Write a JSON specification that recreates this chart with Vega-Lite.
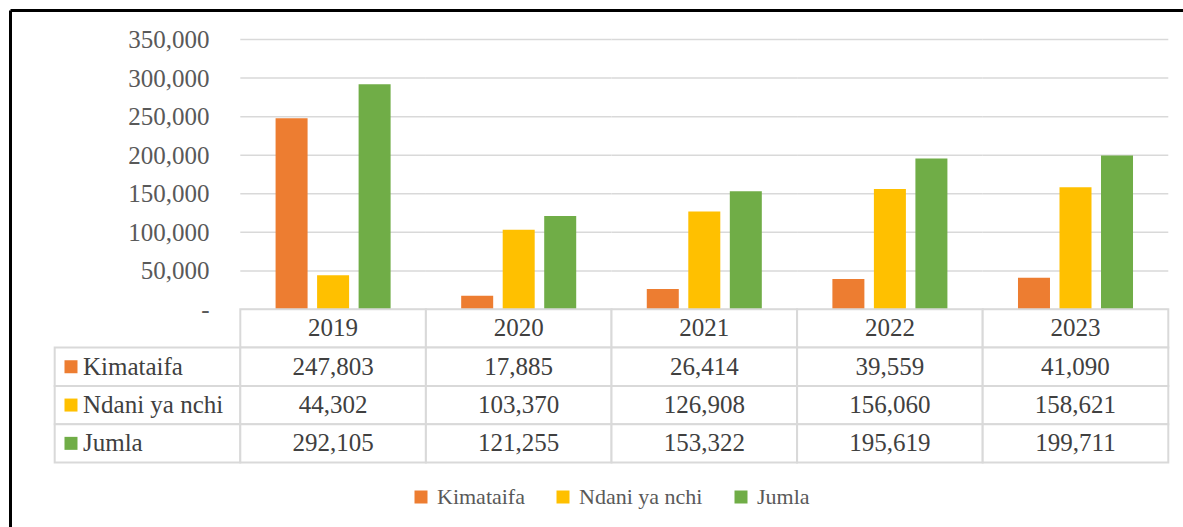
{
  "$schema": "https://vega.github.io/schema/vega-lite/v6.json",
  "width": 1173,
  "height": 517,
  "autosize": "none",
  "padding": {"left": 10, "top": 10, "right": 0, "bottom": 0},
  "background": "white",
  "config": {
    "view": {"stroke": null},
    "font": "Liberation Serif"
  },
  "datasets": {
    "values": [
      {"year": "2019", "series": "Kimataifa", "value": 247803},
      {"year": "2020", "series": "Kimataifa", "value": 17885},
      {"year": "2021", "series": "Kimataifa", "value": 26414},
      {"year": "2022", "series": "Kimataifa", "value": 39559},
      {"year": "2023", "series": "Kimataifa", "value": 41090},
      {"year": "2019", "series": "Ndani ya nchi", "value": 44302},
      {"year": "2020", "series": "Ndani ya nchi", "value": 103370},
      {"year": "2021", "series": "Ndani ya nchi", "value": 126908},
      {"year": "2022", "series": "Ndani ya nchi", "value": 156060},
      {"year": "2023", "series": "Ndani ya nchi", "value": 158621},
      {"year": "2019", "series": "Jumla", "value": 292105},
      {"year": "2020", "series": "Jumla", "value": 121255},
      {"year": "2021", "series": "Jumla", "value": 153322},
      {"year": "2022", "series": "Jumla", "value": 195619},
      {"year": "2023", "series": "Jumla", "value": 199711}
    ],
    "years": [
      {"year": "2019"}, {"year": "2020"}, {"year": "2021"}, {"year": "2022"}, {"year": "2023"}
    ],
    "series": [
      {"series": "Kimataifa"}, {"series": "Ndani ya nchi"}, {"series": "Jumla"}
    ],
    "grid": [
      {"year": "2019", "ticks": [0, 50000, 100000, 150000, 200000, 250000, 300000, 350000]},
      {"year": "2020", "ticks": [0, 50000, 100000, 150000, 200000, 250000, 300000, 350000]},
      {"year": "2021", "ticks": [0, 50000, 100000, 150000, 200000, 250000, 300000, 350000]},
      {"year": "2022", "ticks": [0, 50000, 100000, 150000, 200000, 250000, 300000, 350000]},
      {"year": "2023", "ticks": [0, 50000, 100000, 150000, 200000, 250000, 300000, 350000]}
    ]
  },
  "resolve": {"scale": {"y": "independent"}, "axis": {"y": "independent"}},
  "layer": [
    {
      "data": {"name": "grid"},
      "transform": [{"flatten": ["ticks"], "as": ["tick"]}],
      "mark": {"type": "rect", "fill": "transparent", "stroke": "#d9d9d9", "strokeWidth": 1.5},
      "encoding": {
        "x": {
          "field": "year", "type": "nominal",
          "scale": {"domain": ["Label", "2019", "2020", "2021", "2022", "2023"], "paddingInner": 0, "paddingOuter": 0.16, "align": 0.7525, "round": false},
          "axis": {"orient": "top", "labels": false, "ticks": false, "grid": false, "domain": true, "domainColor": "#000000", "domainWidth": 3, "title": null}
        },
        "y": {
          "field": "tick", "type": "quantitative",
          "scale": {"domain": [-281944, 388241], "zero": false, "nice": false},
          "axis": {"orient": "left", "labels": false, "ticks": false, "grid": false, "domain": true, "domainColor": "#000000", "domainWidth": 3, "title": null}
        },
        "y2": {"field": "tick"}
      }
    },
    {
      "data": {"name": "values"},
      "mark": {"type": "bar"},
      "encoding": {
        "x": {"field": "year", "type": "nominal"},
        "xOffset": {
          "field": "series", "type": "nominal",
          "scale": {"domain": ["Kimataifa", "Ndani ya nchi", "Jumla"], "paddingInner": 0.229, "paddingOuter": 0.85}
        },
        "y": {
          "field": "value", "type": "quantitative",
          "scale": {"domain": [-281944, 388241], "zero": false, "nice": false},
          "axis": {
            "orient": "left", "offset": -199, "values": [0, 50000, 100000, 150000, 200000, 250000, 300000, 350000],
            "labelExpr": "datum.value == 0 ? '-\u00a0\u00a0' : format(datum.value, ',')",
            "domain": false, "ticks": false, "grid": false, "labelPadding": 0,
            "labelFont": "Liberation Serif", "labelFontSize": 25, "labelColor": "#595959",
            "labelOverlap": false, "labelFlush": false, "title": null
          }
        },
        "y2": {"datum": 0},
        "color": {
          "field": "series", "type": "nominal",
          "scale": {"domain": ["Kimataifa", "Ndani ya nchi", "Jumla"], "range": ["#ED7D31", "#FFC000", "#70AD47"]},
          "legend": {
            "orient": "none", "legendX": 400, "legendY": 476, "direction": "horizontal", "title": null,
            "symbolType": "square", "symbolSize": 169, "symbolStrokeWidth": 0, "symbolOpacity": 1,
            "labelFont": "Liberation Serif", "labelFontSize": 22, "labelColor": "#595959",
            "labelOffset": 5, "columnPadding": 27, "padding": 0
          }
        }
      }
    },
    {
      "layer": [
        {
          "data": {"name": "years"},
          "mark": {"type": "rect", "fill": "white", "stroke": "#d9d9d9", "strokeWidth": 2},
          "encoding": {
            "x": {"field": "year", "type": "nominal"},
            "y": {
              "datum": "header", "type": "nominal",
              "scale": {"domain": ["header", "Kimataifa", "Ndani ya nchi", "Jumla"], "range": [299.3, 452.5], "paddingInner": 0, "paddingOuter": 0, "round": false},
              "axis": null
            }
          }
        },
        {
          "data": {"name": "series"},
          "mark": {"type": "rect", "fill": "white", "stroke": "#d9d9d9", "strokeWidth": 2},
          "encoding": {
            "x": {"datum": "Label", "type": "nominal"},
            "y": {"field": "series", "type": "nominal"}
          }
        },
        {
          "data": {"name": "values"},
          "mark": {"type": "rect", "fill": "white", "stroke": "#d9d9d9", "strokeWidth": 2},
          "encoding": {
            "x": {"field": "year", "type": "nominal"},
            "y": {"field": "series", "type": "nominal"}
          }
        },
        {
          "data": {"name": "years"},
          "mark": {"type": "text", "font": "Liberation Serif", "fontSize": 25, "color": "#404040", "baseline": "middle", "align": "center"},
          "encoding": {
            "x": {"field": "year", "type": "nominal"},
            "y": {"datum": "header", "type": "nominal"},
            "text": {"field": "year"}
          }
        },
        {
          "data": {"name": "series"},
          "mark": {"type": "text", "font": "Liberation Serif", "fontSize": 25, "color": "#404040", "baseline": "middle", "align": "left", "dx": -64.5},
          "encoding": {
            "x": {"datum": "Label", "type": "nominal"},
            "y": {"field": "series", "type": "nominal"},
            "text": {"field": "series"}
          }
        },
        {
          "data": {"name": "series"},
          "mark": {"type": "point", "shape": "square", "filled": true, "opacity": 1, "size": 169, "xOffset": -76.5, "strokeWidth": 0},
          "encoding": {
            "x": {"datum": "Label", "type": "nominal"},
            "y": {"field": "series", "type": "nominal"},
            "color": {"field": "series", "type": "nominal", "legend": null}
          }
        },
        {
          "data": {"name": "values"},
          "mark": {"type": "text", "font": "Liberation Serif", "fontSize": 25, "color": "#404040", "baseline": "middle", "align": "center"},
          "encoding": {
            "x": {"field": "year", "type": "nominal"},
            "y": {"field": "series", "type": "nominal"},
            "text": {"field": "value", "type": "quantitative", "format": ","}
          }
        }
      ]
    }
  ]
}
